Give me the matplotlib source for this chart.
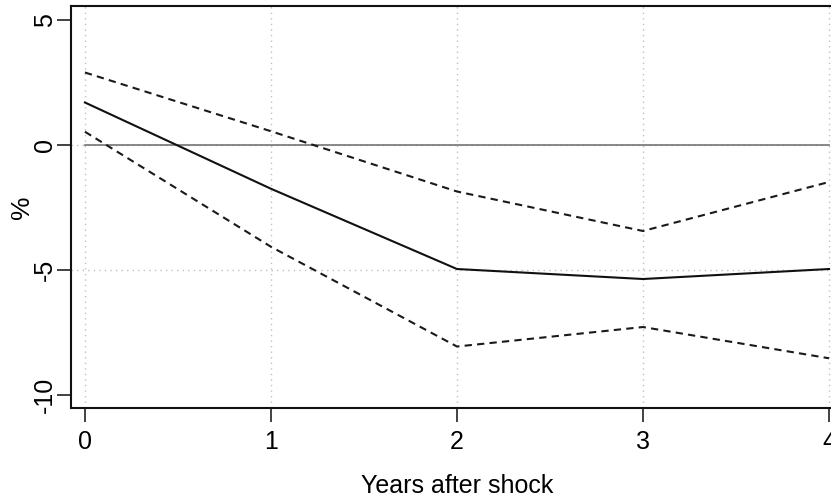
import numpy as np
import matplotlib
matplotlib.use("Agg")
import matplotlib.pyplot as plt

# ── data ──────────────────────────────────────────────────────────────────────
years    = [0, 1, 2, 3, 4]
estimate = [1.70, -1.75, -4.96, -5.36, -4.96]
upper    = [2.90, 0.55, -1.86, -3.44, -1.48]
lower    = [0.53, -4.07, -8.06, -7.28, -8.53]
xticks   = [0, 1, 2, 3, 4]
yticks   = [-10, -5, 0, 5]
ygrid    = [-5, 0]

plt.rcParams["font.family"] = ["Liberation Sans", "DejaVu Sans"]

fig = plt.figure(figsize=(8.31, 4.97), dpi=100)
ax = fig.add_axes([0.0854, 0.179, 0.929, 0.809])

# grid: dotted light grey
for x in xticks:
    ax.axvline(x, color="#c0c0c0", lw=1.0, ls=(0, (1, 3)), zorder=0)
for y in ygrid:
    ax.axhline(y, color="#c0c0c0", lw=1.0, ls=(0, (1, 3)), zorder=0)

# zero reference line
ax.plot([years[0], years[-1]], [0, 0], color="#7f7f7f", lw=1.3, zorder=1)

ax.plot(years, upper, color="#1a1a1a", lw=1.5, ls=(0, (3.5, 2.5)), zorder=2)
ax.plot(years, lower, color="#1a1a1a", lw=1.5, ls=(0, (3.5, 2.5)), zorder=2)
ax.plot(years, estimate, color="#111111", lw=1.5, zorder=3)

ax.set_xlim(-0.075, 4.075)
ax.set_ylim(-10.52, 5.56)
ax.set_xticks(xticks)
ax.set_yticks(yticks)
ax.set_xticklabels([str(v) for v in xticks], fontsize=18)
ax.set_yticklabels([str(v) for v in yticks], fontsize=18, rotation=90, va="center")
ax.tick_params(axis="both", direction="out", length=10, width=1.3, color="#333333")
ax.tick_params(axis="x", pad=6)
ax.tick_params(axis="y", pad=0)

for s in ax.spines.values():
    s.set_linewidth(1.5)
    s.set_color("#111111")

ax.set_xlabel("Years after shock", fontsize=18, labelpad=14)
ax.set_ylabel("%", fontsize=19)
ax.yaxis.set_label_coords(-0.048, 0.5)

fig.savefig("out.png", dpi=100)
